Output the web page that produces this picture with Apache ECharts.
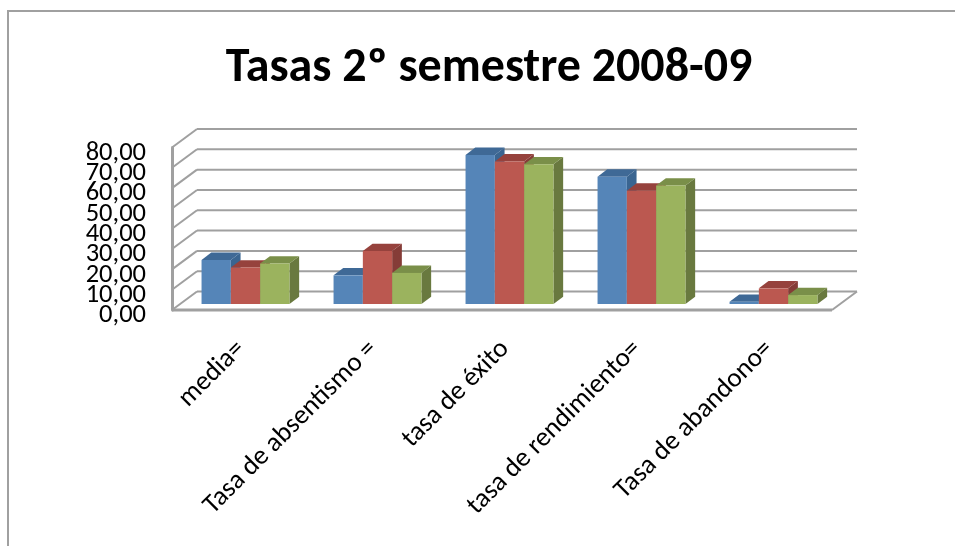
<!DOCTYPE html>
<html><head><meta charset="utf-8">
<style>html,body{margin:0;padding:0;background:#fff}#c{width:955px;height:546px}</style>
<script src="https://cdn.jsdelivr.net/npm/echarts@6/dist/echarts.min.js"></script>
</head><body><div id="c"></div>
<script>
const categories = ['media=', 'Tasa de absentismo =', 'tasa de éxito', 'tasa de rendimiento=', 'Tasa de abandono='];
const serieA = [21.7, 14.1, 73.4, 62.7, 1.1];
const serieB = [18.0, 26.1, 70.2, 55.8, 7.7];
const serieC = [19.9, 15.3, 68.8, 58.3, 4.4];
const yTicks = [0, 10, 20, 30, 40, 50, 60, 70, 80];
const seriesList = [
  {name: 'A', values: serieA, front: '#5585b8', top: '#3f6996', side: '#3a6591'},
  {name: 'B', values: serieB, front: '#bb5850', top: '#96423d', side: '#853c37'},
  {name: 'C', values: serieC, front: '#9bb35e', top: '#7a8f49', side: '#69793f'}
];
const FONT = 'Carlito, Calibri, "Open Sans", sans-serif';
const GRID = {left: 172, right: 123, top: 147.5, bottom: 236};
const LABEL_GRID = {left: 175, right: 120, top: 153, bottom: 230.5};
const WALL = {dx: 25, dy: -18.5};
const BAR = {w: 29.3, dx: 9.7, dy: -7.3, offX: 7.5, base: -6};
const GRAY = '#a0a0a0';

const chart = echarts.init(document.getElementById('c'), null, {renderer: 'canvas'});

function wallItem(params, api) {
  const v = api.value(1);
  const rect = params.coordSys;
  const y = api.coord([0, v])[1];
  const x0 = rect.x, x1 = rect.x + rect.width;
  const style = {stroke: GRAY, lineWidth: 2, fill: null};
  const children = [
    {type: 'line', shape: {x1: x0, y1: y, x2: x0 + WALL.dx, y2: y + WALL.dy}, style},
    {type: 'line', shape: {x1: x0 + WALL.dx, y1: y + WALL.dy, x2: x1 + WALL.dx, y2: y + WALL.dy}, style}
  ];
  if (v === 0) {
    children.push({type: 'line', shape: {x1: x0, y1: y, x2: x1, y2: y}, style: {stroke: GRAY, lineWidth: 3}});
    children.push({type: 'line', shape: {x1: x1, y1: y, x2: x1 + WALL.dx, y2: y + WALL.dy}, style});
  }
  return {type: 'group', children};
}

function barItem(sIdx) {
  return function (params, api) {
    const s = seriesList[sIdx];
    const cat = api.value(0), val = api.value(1);
    const c = api.coord([cat, val]);
    const c0 = api.coord([cat, 0]);
    const x = c[0] + BAR.offX + (sIdx - 1.5) * BAR.w;
    const yTop = c[1] + BAR.base, yBot = c0[1] + BAR.base;
    const w = BAR.w, dx = BAR.dx, dy = BAR.dy;
    return {type: 'group', children: [
      {type: 'polygon', shape: {points: [[x + w, yTop], [x + w + dx, yTop + dy], [x + w + dx, yBot + dy], [x + w, yBot]]}, style: {fill: s.side}},
      {type: 'polygon', shape: {points: [[x, yTop], [x + dx, yTop + dy], [x + w + dx, yTop + dy], [x + w, yTop]]}, style: {fill: s.top}},
      {type: 'rect', shape: {x: x, y: yTop, width: w, height: yBot - yTop}, style: {fill: s.front}}
    ]};
  };
}

const yLabelStyle = {margin: 29, lineHeight: 16, formatter: v => v.toFixed(2).replace('.', ','), fontFamily: FONT, fontSize: 26.5, color: '#000'};
const hiddenAxisParts = {axisLine: {show: false}, axisTick: {show: false}, splitLine: {show: false}};

const option = {
  backgroundColor: '#fff',
  animation: false,
  title: {
    text: 'Tasas 2º semestre 2008-09', left: 484, top: 40, textAlign: 'center',
    textStyle: {fontFamily: FONT, fontSize: 48, fontWeight: 'bold', color: '#000'}
  },
  grid: [GRID, LABEL_GRID],
  xAxis: [
    {type: 'category', data: categories, gridIndex: 0, ...hiddenAxisParts, axisLabel: {show: false}},
    {type: 'category', data: categories, gridIndex: 1, ...hiddenAxisParts,
     axisLabel: {rotate: 45, interval: 0, margin: 29.5, fontFamily: FONT, fontSize: 27, color: '#000'}}
  ],
  yAxis: [
    {type: 'value', min: 0, max: 80, interval: 10, gridIndex: 0,
     axisLine: {show: true, lineStyle: {color: GRAY, width: 3}},
     axisTick: {show: false}, splitLine: {show: false}, axisLabel: {show: false}},
    {type: 'value', min: 0, max: 80, interval: 10, gridIndex: 1, ...hiddenAxisParts,
     axisLabel: {...yLabelStyle, showMinLabel: false, showMaxLabel: false}},
    {type: 'value', min: 0, max: 80, interval: 80, gridIndex: 1, position: 'left', offset: 0, ...hiddenAxisParts,
     axisLabel: {...yLabelStyle, showMinLabel: true, showMaxLabel: true}}
  ],
  graphic: [
    {type: 'polyline', shape: {points: [[8, 546], [8, 11], [955, 11]]}, style: {stroke: GRAY, lineWidth: 2, fill: null}, silent: true}
  ],
  series: [
    {type: 'custom', name: 'pared', coordinateSystem: 'cartesian2d', xAxisIndex: 0, yAxisIndex: 0, z: 1, silent: true,
     data: yTicks.map(v => [0, v]), encode: {x: 0, y: 1},
     renderItem: wallItem},
    ...seriesList.map((s, i) => ({
      type: 'custom', name: s.name, coordinateSystem: 'cartesian2d', xAxisIndex: 0, yAxisIndex: 0, z: 3 + i, silent: true,
      data: s.values.map((v, k) => [k, v]), encode: {x: 0, y: 1},
      renderItem: barItem(i)
    }))
  ]
};
chart.setOption(option);
</script></body></html>
